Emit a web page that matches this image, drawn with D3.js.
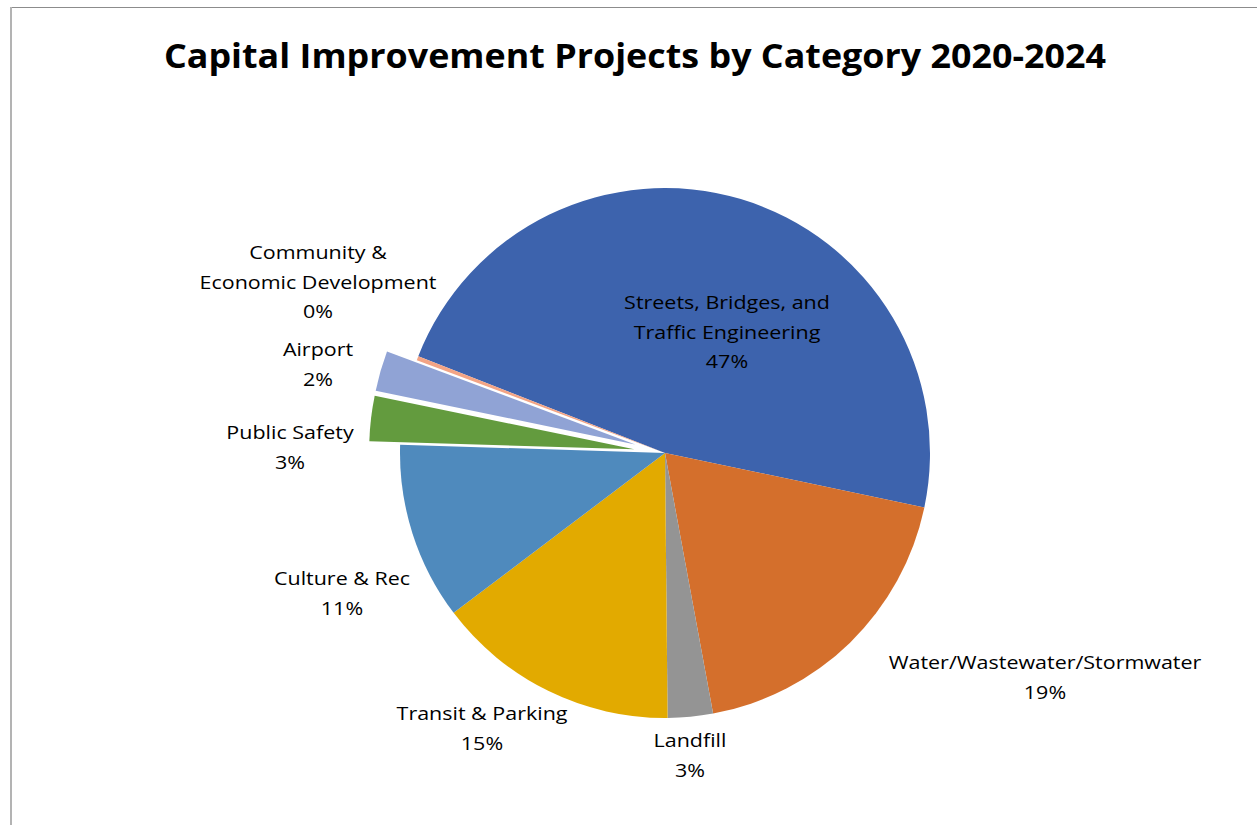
<!DOCTYPE html>
<html>
<head>
<meta charset="utf-8">
<script src="https://cdn.jsdelivr.net/npm/d3@7"></script>
<style>
  html, body { margin: 0; padding: 0; background: #fff; }
  svg { display: block; }
  text { font-family: "Open Sans", "Noto Sans", sans-serif; fill: #000; }
</style>
</head>
<body>
<svg id="chart" width="1257" height="825"></svg>
<script>
// Share of the 2020-2024 capital budget by category (percent)
const categories = [
  "Streets, Bridges, and Traffic Engineering",
  "Water/Wastewater/Stormwater",
  "Landfill",
  "Transit & Parking",
  "Culture & Rec",
  "Public Safety",
  "Airport",
  "Community & Economic Development"
];
const shares = [47.35, 18.8, 2.75, 14.85, 10.8, 2.75, 2.45, 0.25];
const labelLines = [
  ["Streets, Bridges, and", "Traffic Engineering"],
  ["Water/Wastewater/Stormwater"],
  ["Landfill"],
  ["Transit & Parking"],
  ["Culture & Rec"],
  ["Public Safety"],
  ["Airport"],
  ["Community &", "Economic Development"]
];
const exploded = [false, false, false, false, false, true, true, false];
const colors = ["#3d63ad", "#d46f2c", "#949494", "#e2aa00", "#4f8abd", "#639b3e", "#90a3d5", "#f3a485"];
const title = "Capital Improvement Projects by Category 2020-2024";

// Layout
const W = 1257, H = 825;
const cx = 665, cy = 453, radius = 265, explodeBy = 31;
const firstSliceDeg = 291.4;
// label anchor (center of the text block's first line)
const labelPos = [
  [727, 302], [1045, 662], [690, 740], [482, 713],
  [342, 578], [290, 432], [318, 349], [318, 252]
];
const lineGap = 29.5;
const stretchX = 1.13;   // horizontal stretch for the condensed face

const svg = d3.select("#chart");

// chart area frame
svg.append("line").attr("x1", 11).attr("x2", W).attr("y1", 7.5).attr("y2", 7.5)
  .attr("stroke", "#8c8c8c").attr("stroke-width", 1);
svg.append("line").attr("x1", 11).attr("x2", 11).attr("y1", 7).attr("y2", H)
  .attr("stroke", "#b3b3b3").attr("stroke-width", 2);

// title
svg.append("g").attr("transform", "translate(635,68) scale(1.071,1)")
  .append("text")
  .attr("text-anchor", "middle")
  .attr("font-weight", 700)
  .attr("font-size", 33.5)
  .text(title);

const data = categories.map((c, i) => ({ name: c, value: shares[i], i }));
const pie = d3.pie().sort(null).value(d => d.value)
  .startAngle(firstSliceDeg * Math.PI / 180)
  .endAngle(firstSliceDeg * Math.PI / 180 + 2 * Math.PI);
const arc = d3.arc().innerRadius(0).outerRadius(radius);
const arcs = pie(data);

const g = svg.append("g").attr("transform", `translate(${cx},${cy})`);
g.selectAll("path").data(arcs).join("path")
  .attr("d", arc)
  .attr("fill", d => colors[d.data.i])
  .attr("transform", d => {
    if (!exploded[d.data.i]) return null;
    const mid = (d.startAngle + d.endAngle) / 2;
    return `translate(${Math.sin(mid) * explodeBy},${-Math.cos(mid) * explodeBy})`;
  });

// data labels
const lg = svg.append("g");
arcs.forEach(d => {
  const i = d.data.i;
  const lines = labelLines[i].concat([Math.round(d.data.value) + "%"]);
  const [lx, ly] = labelPos[i];
  lines.forEach((s, k) => {
    lg.append("g")
      .attr("transform", `translate(${lx},${ly + k * lineGap + 7}) scale(${stretchX},1)`)
      .append("text")
      .attr("text-anchor", "middle")
      .attr("font-size", 19)
      .text(s);
  });
});
</script>
</body>
</html>
